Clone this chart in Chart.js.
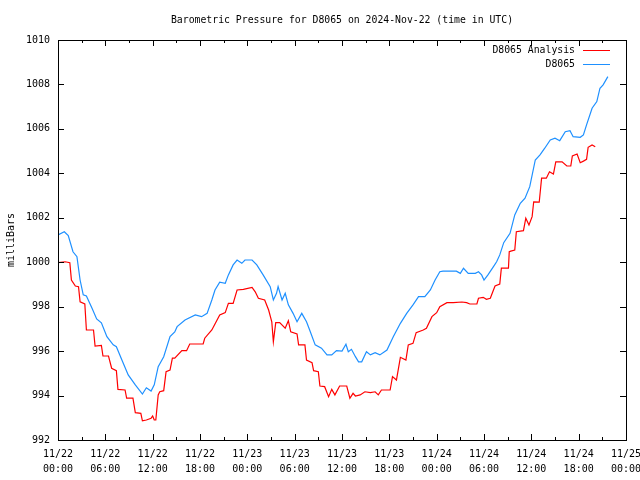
<!DOCTYPE html>
<html>
<head>
<meta charset="utf-8">
<script src="https://cdn.jsdelivr.net/npm/chart.js@4.4.1/dist/chart.umd.min.js"></script>
<style>
  html, body { margin: 0; padding: 0; background: #fff; }
  #wrap { width: 640px; height: 480px; }
</style>
</head>
<body>
<div id="wrap"><canvas id="myChart" width="640" height="480"></canvas></div>
<script>
// hours since 2024-11-22 00:00 UTC
var analysisHours = [0, 0.9, 1.5, 1.7, 2.2, 2.6, 2.8, 3.4, 3.6, 4.5, 4.7, 5.5, 5.7, 6.4, 6.8, 7.4, 7.6, 8.5, 8.7, 9.5,
  9.8, 10.5, 10.7, 11.2, 11.8, 12.0, 12.2, 12.4, 12.7, 12.9, 13.4, 13.7, 14.2, 14.5, 14.8, 15.7, 16.3, 16.7, 18.4, 18.6,
  19.5, 20.5, 21.2, 21.6, 22.2, 22.7, 23.5, 24.6, 25.0, 25.4, 26.2, 26.7, 27.1, 27.3, 27.6, 28.1, 28.8, 29.2, 29.5, 30.3,
  30.5, 31.3, 31.5, 32.2, 32.4, 33.0, 33.2, 33.8, 34.3, 34.7, 35.1, 35.7, 36.6, 37.0, 37.4, 37.7, 38.3, 38.9, 39.6, 40.2,
  40.6, 41.0, 42.1, 42.4, 42.9, 43.4, 44.1, 44.4, 45.0, 45.4, 46.3, 46.7, 47.4, 48.0, 48.4, 49.3, 50.1, 51.2, 51.8, 52.2,
  53.1, 53.3, 53.9, 54.3, 54.8, 55.2, 55.4, 56.0, 56.2, 57.1, 57.2, 57.4, 57.9, 58.1, 59.0, 59.3, 59.7, 60.1, 60.3, 61.0,
  61.3, 61.9, 62.3, 62.8, 63.1, 63.9, 64.5, 65.0, 65.2, 65.8, 66.2, 66.6, 67.0, 67.2, 67.7, 68.1];
var analysisValues = [999.98, 1000.02, 999.98, 999.2, 998.93, 998.9, 998.22, 998.12, 996.95, 996.95, 996.23, 996.26, 995.78, 995.78, 995.23, 995.12, 994.28, 994.25, 993.88, 993.88,
  993.23, 993.2, 992.86, 992.9, 992.98, 993.08, 992.9, 992.9, 994.03, 994.17, 994.22, 995.07, 995.15, 995.68, 995.68, 996.02, 996.02, 996.32, 996.32, 996.58,
  996.95, 997.63, 997.73, 998.15, 998.15, 998.75, 998.78, 998.87, 998.67, 998.38, 998.3, 997.85, 997.32, 996.42, 997.28, 997.28, 997.03, 997.37, 996.87, 996.77,
  996.28, 996.28, 995.6, 995.48, 995.12, 995.07, 994.43, 994.4, 993.95, 994.28, 994.03, 994.43, 994.43, 993.88, 994.1, 993.98, 994.03, 994.17, 994.13, 994.17,
  994.03, 994.25, 994.25, 994.85, 994.7, 995.72, 995.6, 996.28, 996.35, 996.83, 996.95, 997.03, 997.55, 997.73, 998.0, 998.18, 998.18, 998.21, 998.18, 998.12,
  998.12, 998.38, 998.42, 998.33, 998.38, 998.75, 998.93, 999.02, 999.73, 999.73, 1000.47, 1000.5, 1000.55, 1001.37, 1001.42, 1001.98, 1001.68, 1002.05, 1002.72, 1002.7,
  1003.78, 1003.78, 1004.07, 1003.97, 1004.52, 1004.52, 1004.33, 1004.33, 1004.78, 1004.87, 1004.48, 1004.55, 1004.63, 1005.17, 1005.28, 1005.2];

var stationHours = [0, 0.8, 1.3, 1.9, 2.4, 2.8, 3.2, 3.6, 4.3, 4.9, 5.5, 6.2, 7.0, 7.4, 8.1, 8.9, 9.8, 10.7, 11.2, 11.8,
  12.2, 12.7, 13.4, 14.2, 14.8, 15.1, 16.1, 17.4, 18.2, 18.9, 19.5, 19.9, 20.5, 21.2, 21.6, 22.2, 22.7, 23.3, 23.7, 24.6,
  25.2, 26.0, 26.9, 27.3, 27.7, 27.9, 28.4, 28.8, 29.2, 29.8, 30.3, 30.9, 31.5, 31.9, 32.6, 33.4, 34.1, 34.7, 35.3, 36.0,
  36.5, 36.8, 37.2, 37.7, 38.1, 38.5, 39.1, 39.6, 40.2, 40.8, 41.7, 42.5, 43.4, 44.2, 45.0, 45.7, 46.5, 47.2, 47.8, 48.4,
  48.8, 50.5, 51.0, 51.4, 52.0, 52.9, 53.3, 53.7, 54.0, 54.5, 55.2, 55.6, 56.0, 56.5, 57.3, 57.9, 58.6, 59.2, 59.8, 60.5,
  61.1, 61.7, 62.4, 63.0, 63.6, 64.3, 64.9, 65.3, 66.2, 66.6, 67.0, 67.7, 68.3, 68.7, 69.1, 69.7];
var stationValues = [1001.23, 1001.37, 1001.2, 1000.47, 1000.25, 999.2, 998.53, 998.48, 997.94, 997.45, 997.27, 996.65, 996.28, 996.2, 995.6, 994.93, 994.48, 994.07, 994.35, 994.2,
  994.48, 995.3, 995.75, 996.65, 996.86, 997.1, 997.4, 997.63, 997.55, 997.7, 998.3, 998.75, 999.1, 999.05, 999.43, 999.88, 1000.1, 999.95, 1000.1, 1000.1,
  999.88, 999.43, 998.9, 998.3, 998.6, 998.9, 998.3, 998.6, 998.08, 997.7, 997.32, 997.7, 997.32, 996.95, 996.28, 996.13, 995.83, 995.83, 996.02, 996.0,
  996.31, 995.97, 996.08, 995.75, 995.52, 995.52, 995.97, 995.83, 995.93, 995.83, 996.05, 996.65, 997.25, 997.7, 998.08, 998.45, 998.45, 998.75, 999.2, 999.57,
  999.6, 999.6, 999.5, 999.73, 999.5, 999.5, 999.57, 999.43, 999.2, 999.43, 999.8, 1000.02, 1000.33, 1000.88, 1001.3, 1002.13, 1002.65, 1002.88, 1003.4, 1004.6,
  1004.83, 1005.13, 1005.5, 1005.58, 1005.47, 1005.87, 1005.92, 1005.65, 1005.62, 1005.73, 1006.18, 1006.93, 1007.23, 1007.83, 1007.98, 1008.35];

var dayLabels = ["11/22", "11/23", "11/24", "11/25"];
var hourLabels = ["00:00", "06:00", "12:00", "18:00"];
var seriesNames = ["D8065 Analysis", "D8065"];
var seriesColors = ["#ff0000", "#1e90ff"];
var titleText = "Barometric Pressure for D8065 on 2024-Nov-22 (time in UTC)";

var MONO = "'DejaVu Sans Mono', 'Liberation Mono', monospace";

function toPoints(hs, vs) {
  var out = [];
  for (var i = 0; i < hs.length; i++) out.push({ x: hs[i], y: vs[i] });
  return out;
}

// gnuplot-like frame with inward ticks, mirrored on top and right
var framePlugin = {
  id: "frame",
  afterDatasetsDraw: function (chart) {
    var ctx = chart.ctx, a = chart.chartArea;
    var xs = chart.scales.x, ys = chart.scales.y;
    ctx.save();
    ctx.strokeStyle = "#000";
    ctx.lineWidth = 1;
    ctx.beginPath();
    for (var h = 0; h <= 72; h += 3) {
      var px = Math.round(xs.getPixelForValue(h)) + 0.5;
      var len = (h % 6 === 0) ? 6 : 3;
      ctx.moveTo(px, a.bottom); ctx.lineTo(px, a.bottom - len);
      ctx.moveTo(px, a.top); ctx.lineTo(px, a.top + len);
    }
    for (var v = 992; v <= 1010; v += 2) {
      var py = Math.round(ys.getPixelForValue(v)) + 0.5;
      ctx.moveTo(a.left, py); ctx.lineTo(a.left + 6, py);
      ctx.moveTo(a.right, py); ctx.lineTo(a.right - 6, py);
    }
    ctx.stroke();
    ctx.strokeRect(Math.round(a.left) + 0.5, Math.round(a.top) + 0.5,
      Math.round(a.right - a.left), Math.round(a.bottom - a.top));
    ctx.restore();
  }
};

// title over the plot, and the key in the top right corner
var textPlugin = {
  id: "texts",
  afterDraw: function (chart) {
    var ctx = chart.ctx, a = chart.chartArea;
    ctx.save();
    ctx.font = "9.8px " + MONO;
    ctx.fillStyle = "#000";
    ctx.textAlign = "center";
    ctx.textBaseline = "middle";
    ctx.fillText(titleText, (a.left + a.right) / 2, 20);

    ctx.textAlign = "right";
    chart.data.datasets.forEach(function (ds, i) {
      var y = a.top + 10 + i * 14;
      ctx.fillStyle = "#000";
      ctx.fillText(ds.label, a.right - 51, y);
      ctx.strokeStyle = ds.borderColor;
      ctx.lineWidth = 1;
      ctx.beginPath();
      ctx.moveTo(a.right - 43, y + 0.5);
      ctx.lineTo(a.right - 16, y + 0.5);
      ctx.stroke();
    });
    ctx.restore();
  }
};

var ctx = document.getElementById("myChart").getContext("2d");
var myChart = new Chart(ctx, {
  type: "line",
  data: {
    datasets: [
      {
        label: seriesNames[0],
        data: toPoints(analysisHours, analysisValues),
        borderColor: seriesColors[0],
        borderWidth: 1.2,
        pointRadius: 0,
        tension: 0,
      },
      {
        label: seriesNames[1],
        data: toPoints(stationHours, stationValues),
        borderColor: seriesColors[1],
        borderWidth: 1.2,
        pointRadius: 0,
        tension: 0,
      },
    ],
  },
  options: {
    responsive: false,
    animation: false,
    layout: { padding: { left: 0, right: 14, top: 40, bottom: 0 } },
    plugins: {
      legend: { display: false },
      tooltip: { enabled: false },
      title: { display: false },
    },
    scales: {
      x: {
        type: "linear",
        min: 0,
        max: 72,
        grid: { display: false, drawTicks: false },
        border: { display: false },
        ticks: {
          stepSize: 6,
          autoSkip: false,
          maxRotation: 0,
          padding: 7,
          color: "#000",
          font: { family: MONO, size: 10, lineHeight: 1.5 },
          callback: function (value) {
            var d = Math.floor(value / 24);
            var hr = (value % 24) / 6;
            return [dayLabels[d], hourLabels[hr]];
          },
        },
        afterFit: function (scale) {
          scale.height = 40;
          scale.paddingLeft = 0;
          scale.paddingRight = 0;
        },
      },
      y: {
        min: 992,
        max: 1010,
        grid: { display: false, drawTicks: false },
        border: { display: false },
        ticks: {
          stepSize: 2,
          padding: 8,
          color: "#000",
          font: { family: MONO, size: 10 },
          callback: function (value) { return String(value); },
        },
        title: {
          display: true,
          text: "milliBars",
          color: "#000",
          font: { family: MONO, size: 10 },
          padding: { top: 5, bottom: 0 },
        },
        afterFit: function (scale) {
          scale.width = 58;
          scale.paddingTop = 0;
          scale.paddingBottom = 0;
        },
      },
    },
  },
  plugins: [framePlugin, textPlugin],
});
</script>
</body>
</html>
